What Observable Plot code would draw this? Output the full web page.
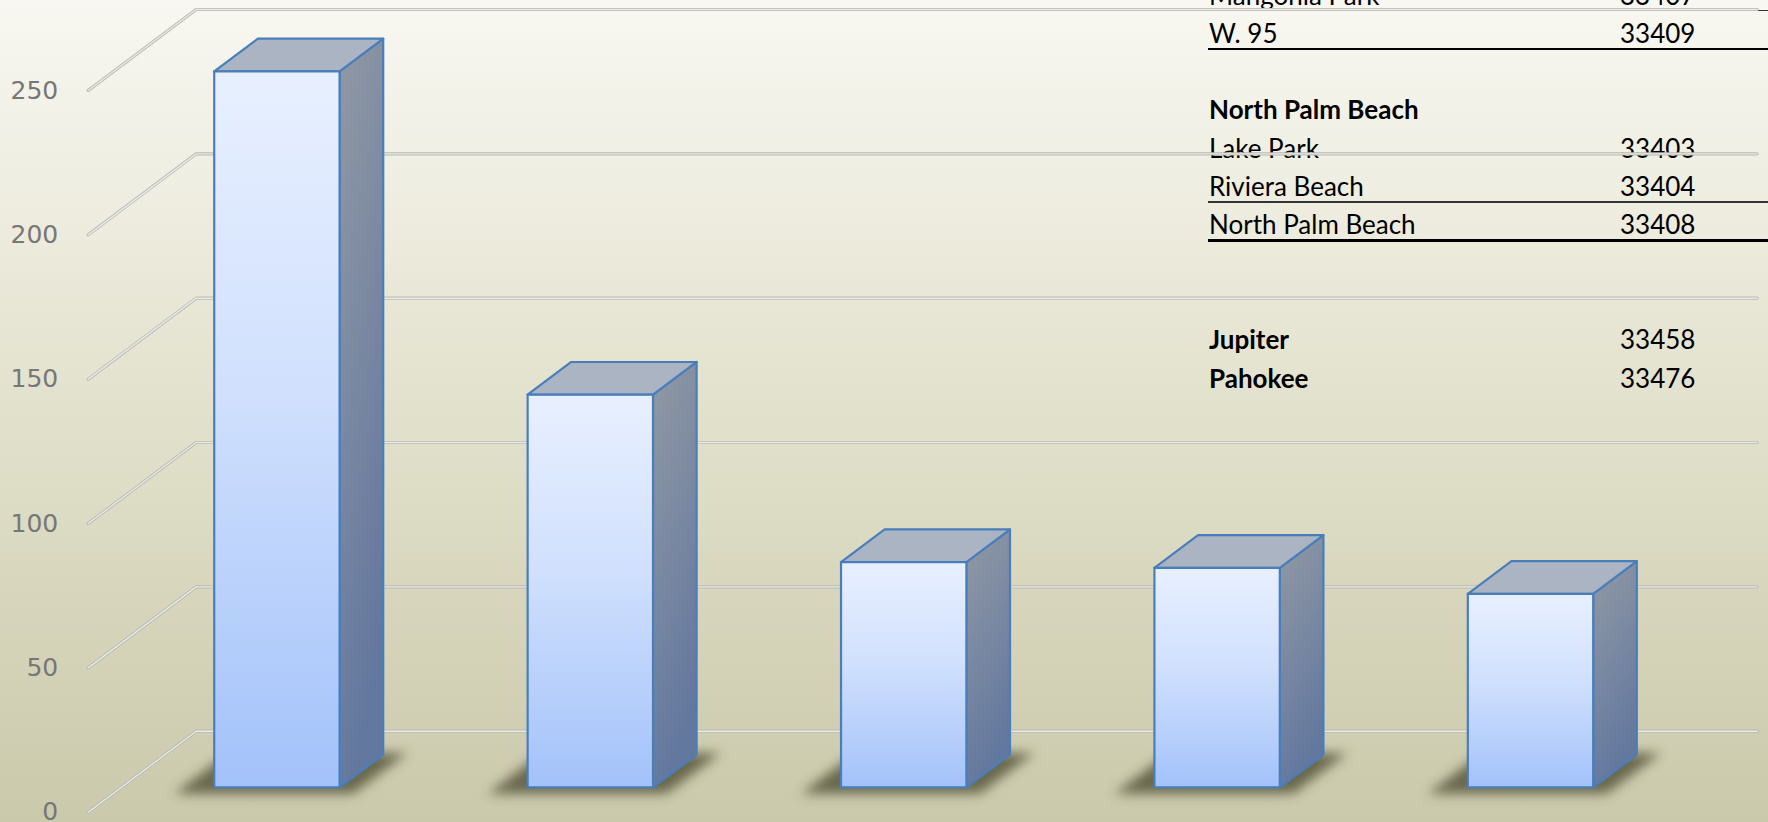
<!DOCTYPE html>
<html>
<head>
<meta charset="utf-8">
<script src="https://cdn.jsdelivr.net/npm/d3@7"></script>
<script src="https://cdn.jsdelivr.net/npm/@observablehq/plot@0.6"></script>
<style>
  html, body { margin: 0; padding: 0; width: 1768px; height: 822px; overflow: hidden; }
  body {
    position: relative;
    background: linear-gradient(to bottom, #f8f7f1 0%, #efeee2 22%, #e2e1cc 50%, #d6d5bb 75%, #cbc9ab 100%);
    font-family: Lato, "Open Sans", sans-serif;
  }
  #table { position: absolute; left: 0; top: 0; width: 1768px; height: 822px; z-index: 0; }
  #chart { position: absolute; left: 0; top: 0; z-index: 1; }
  .cell { position: absolute; font-size: 26px; color: #000; white-space: nowrap; height: 38px; line-height: 38px; }
  .bold { font-weight: 700; }
  .rule { position: absolute; left: 1208px; width: 560px; background: #000; }
</style>
</head>
<body>
<div id="table"></div>
<div id="chart"></div>
<script>
// ---- data ----
const categories = ["1", "2", "3", "4", "5"];
const values = [248, 136, 78, 76, 67];
const yTicks = [0, 50, 100, 150, 200, 250];

// overlay table (partially visible)
const tableNames = ["Mangonia Park", "W. 95", "", "North Palm Beach", "Lake Park", "Riviera Beach", "North Palm Beach", "", "", "Jupiter", "Pahokee"];
const tableZips  = ["33407", "33409", "", "", "33403", "33404", "33408", "", "", "33458", "33476"];
const tableBold  = [false, false, false, true, false, false, false, false, false, true, true];
const tableRule  = ["thin", "thick", "", "", "", "thin", "thick", "", "", "", ""];

// ---- table overlay ----
const tableEl = document.getElementById("table");
const rowH = 38.3, row0 = -6;
tableNames.forEach((name, k) => {
  const cy = row0 + k * rowH;
  if (name) {
    const d = document.createElement("div");
    d.className = "cell" + (tableBold[k] ? " bold" : "");
    d.style.left = "1209px"; d.style.top = (cy - 18.5) + "px";
    d.textContent = name; tableEl.appendChild(d);
  }
  if (tableZips[k]) {
    const d = document.createElement("div");
    d.className = "cell";
    d.style.left = "1620px"; d.style.top = (cy - 18.5) + "px";
    d.textContent = tableZips[k]; tableEl.appendChild(d);
  }
  if (tableRule[k]) {
    const r = document.createElement("div");
    r.className = "rule";
    const t = tableRule[k] === "thick" ? 2.5 : 1.5;
    r.style.height = t + "px";
    r.style.top = (cy + 16.7 - t / 2) + "px";
    r.style.background = tableRule[k] === "thick" ? "#000" : "#333";
    tableEl.appendChild(r);
  }
});

// ---- chart geometry ----
const W = 1768, H = 822;
const n = categories.length;
const mL = 87.7, stepPx = 313.4, mT = 90, mB = 10.3;
const mR = W - mL - stepPx * n;
const yMax = 250;
const ppu = (H - mT - mB) / yMax;
const depthPx = [108, 81];
const kx = depthPx[0] / stepPx, ky = depthPx[1] / ppu;
const z0 = 0.301, z1 = 0.705, half = 0.2;
const gridEnd = n - 0.5 + kx - 6 / stepPx;

const gridPts = yTicks.flatMap(t => [
  {t, x: -0.5, y: t},
  {t, x: -0.5 + kx, y: t + ky},
  {t, x: gridEnd, y: t + ky}
]);
const frontFaces = values.map((v, i) => ({cat: categories[i], x1: i - half + z0 * kx, x2: i + half + z0 * kx, y1: z0 * ky, y2: v + z0 * ky}));
const sideFaces = values.flatMap((v, i) => [z0, z1].map(z => ({cat: categories[i], x: i + half + z * kx, y1: z * ky, y2: v + z * ky})));
const topFaces = values.flatMap((v, i) => [z0, z1].map(z => ({cat: categories[i], y: v + z * ky, x1: i - half + z * kx, x2: i + half + z * kx})));
const shadowFaces = values.flatMap((v, i) => [z0 - 0.08, z1 + 0.02].map(z => ({cat: categories[i], y: z * ky, x1: i - half - 0.1 + z * kx, x2: i + half + 0.07 + z * kx})));

const defsMark = () => {
  const d = d3.create("svg:defs");
  const fg = d.append("linearGradient").attr("id", "frontGrad").attr("x1", 0).attr("y1", 0).attr("x2", 0).attr("y2", 1);
  fg.append("stop").attr("offset", "0%").attr("stop-color", "#e8f0ff");
  fg.append("stop").attr("offset", "45%").attr("stop-color", "#d0e0fd");
  fg.append("stop").attr("offset", "100%").attr("stop-color", "#a3c2fa");
  const sg = d.append("linearGradient").attr("id", "sideGrad").attr("x1", 0).attr("y1", 0).attr("x2", 0.3).attr("y2", 1);
  sg.append("stop").attr("offset", "0%").attr("stop-color", "#9199a4");
  sg.append("stop").attr("offset", "100%").attr("stop-color", "#63789f");
  const f = d.append("filter").attr("id", "shadowBlur").attr("x", "-50%").attr("y", "-50%").attr("width", "200%").attr("height", "200%");
  f.append("feGaussianBlur").attr("stdDeviation", 6);
  return d.node();
};

const plot = Plot.plot({
  width: W, height: H,
  marginLeft: mL, marginRight: mR, marginTop: mT, marginBottom: mB,
  x: {domain: [-0.5, n - 0.5], axis: null},
  y: {domain: [0, yMax], ticks: yTicks, tickSize: 0, tickPadding: 30, label: null},
  style: {background: "transparent", fontFamily: "DejaVu Sans", fontSize: "25px", color: "#777777", overflow: "visible"},
  marks: [
    defsMark,
    Plot.line(gridPts, {x: "x", y: "y", z: "t", stroke: "#b9b9b3", strokeWidth: 3.2, strokeLinejoin: "round"}),
    Plot.line(gridPts, {x: "x", y: "y", z: "t", stroke: "#e9e9e5", strokeWidth: 1.4, strokeLinejoin: "round"}),
    Plot.areaX(shadowFaces, {y: "y", x1: "x1", x2: "x2", z: "cat", fill: "#47452c", fillOpacity: 0.75}),
    Plot.areaY(sideFaces, {x: "x", y1: "y1", y2: "y2", z: "cat", fill: "url(#sideGrad)", stroke: "#4a7ebb", strokeWidth: 2.2, strokeLinejoin: "round"}),
    Plot.areaX(topFaces, {y: "y", x1: "x1", x2: "x2", z: "cat", fill: "#abb4c2", stroke: "#4a7ebb", strokeWidth: 2.2, strokeLinejoin: "round"}),
    Plot.rect(frontFaces, {x1: "x1", x2: "x2", y1: "y1", y2: "y2", fill: "url(#frontGrad)", stroke: "#4a7ebb", strokeWidth: 2.2})
  ]
});
const areaGroups = plot.querySelectorAll('g[aria-label="area"]');
if (areaGroups.length) areaGroups[0].setAttribute("filter", "url(#shadowBlur)");
document.getElementById("chart").appendChild(plot);
</script>
</body>
</html>
